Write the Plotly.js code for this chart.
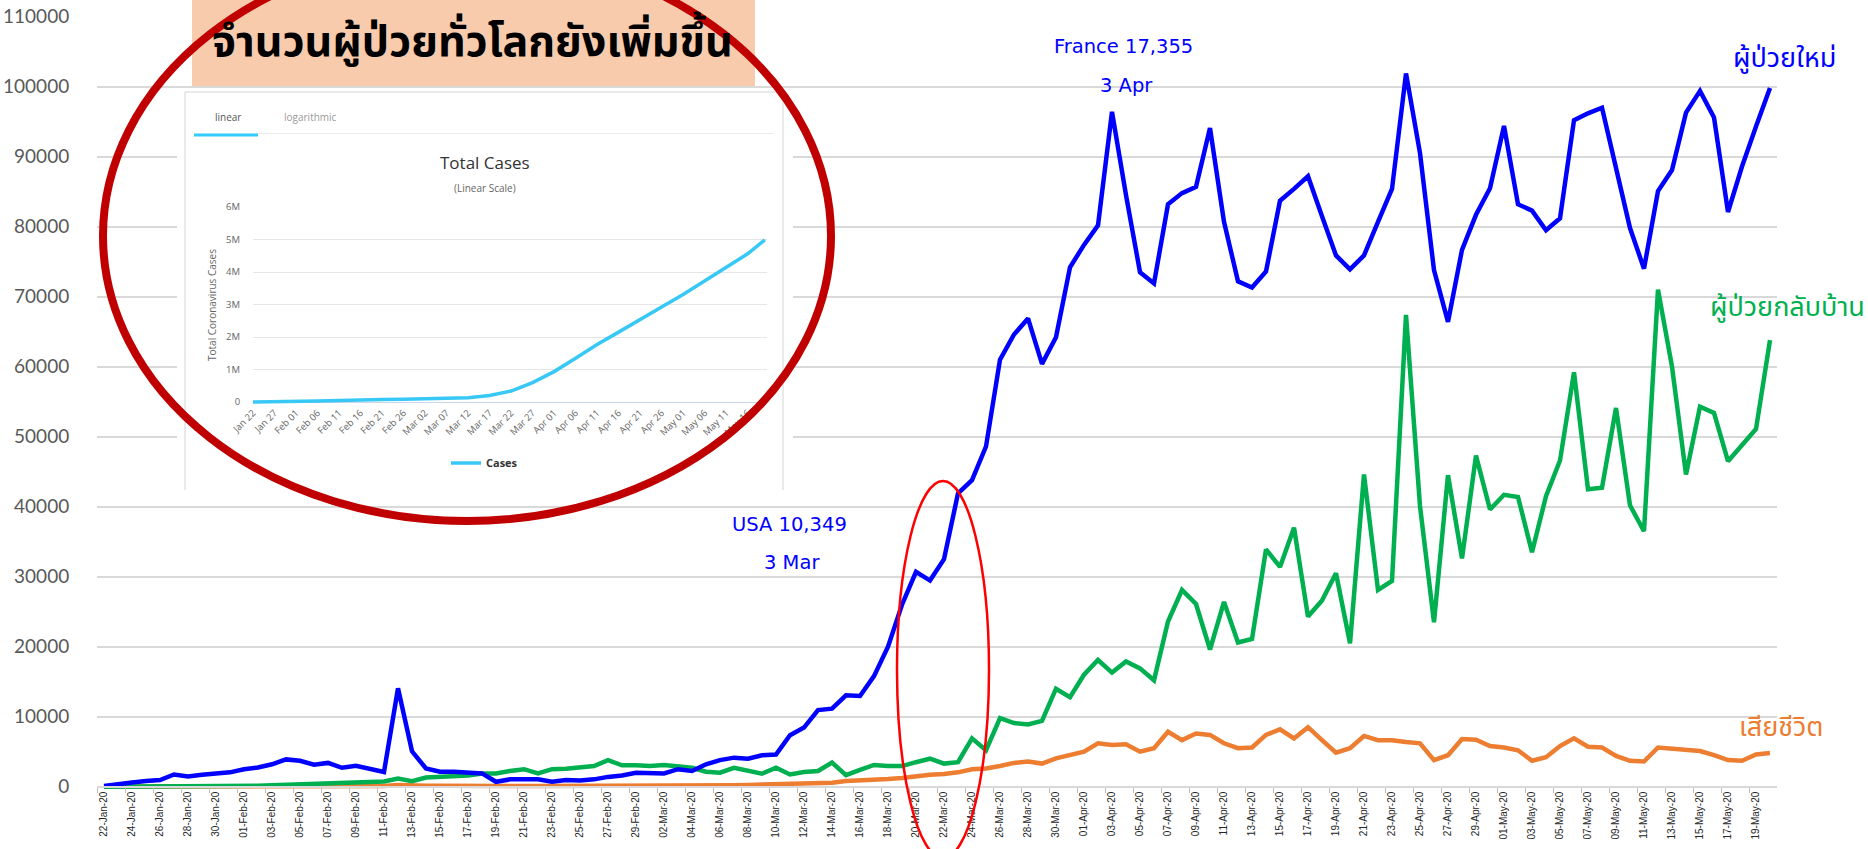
<!DOCTYPE html>
<html><head><meta charset="utf-8">
<script src="https://cdn.plot.ly/plotly-3.0.1.min.js"></script>
<style>html,body{margin:0;padding:0;background:#fff;overflow:hidden}#chart{width:1868px;height:849px}</style>
</head><body><div id="chart"></div>
<script>
const dates = [
'22-Jan-20','23-Jan-20','24-Jan-20','25-Jan-20','26-Jan-20','27-Jan-20','28-Jan-20','29-Jan-20','30-Jan-20','31-Jan-20',
'01-Feb-20','02-Feb-20','03-Feb-20','04-Feb-20','05-Feb-20','06-Feb-20','07-Feb-20','08-Feb-20','09-Feb-20','10-Feb-20',
'11-Feb-20','12-Feb-20','13-Feb-20','14-Feb-20','15-Feb-20','16-Feb-20','17-Feb-20','18-Feb-20','19-Feb-20','20-Feb-20',
'21-Feb-20','22-Feb-20','23-Feb-20','24-Feb-20','25-Feb-20','26-Feb-20','27-Feb-20','28-Feb-20','29-Feb-20',
'01-Mar-20','02-Mar-20','03-Mar-20','04-Mar-20','05-Mar-20','06-Mar-20','07-Mar-20','08-Mar-20','09-Mar-20','10-Mar-20',
'11-Mar-20','12-Mar-20','13-Mar-20','14-Mar-20','15-Mar-20','16-Mar-20','17-Mar-20','18-Mar-20','19-Mar-20','20-Mar-20',
'21-Mar-20','22-Mar-20','23-Mar-20','24-Mar-20','25-Mar-20','26-Mar-20','27-Mar-20','28-Mar-20','29-Mar-20','30-Mar-20','31-Mar-20',
'01-Apr-20','02-Apr-20','03-Apr-20','04-Apr-20','05-Apr-20','06-Apr-20','07-Apr-20','08-Apr-20','09-Apr-20','10-Apr-20',
'11-Apr-20','12-Apr-20','13-Apr-20','14-Apr-20','15-Apr-20','16-Apr-20','17-Apr-20','18-Apr-20','19-Apr-20','20-Apr-20',
'21-Apr-20','22-Apr-20','23-Apr-20','24-Apr-20','25-Apr-20','26-Apr-20','27-Apr-20','28-Apr-20','29-Apr-20','30-Apr-20',
'01-May-20','02-May-20','03-May-20','04-May-20','05-May-20','06-May-20','07-May-20','08-May-20','09-May-20','10-May-20',
'11-May-20','12-May-20','13-May-20','14-May-20','15-May-20','16-May-20','17-May-20','18-May-20','19-May-20','20-May-20'
];
const newCases = [
100,400,600,800,950,1750,1450,1700,1900,2050,
2500,2750,3200,3900,3700,3150,3400,2700,3000,2550,
2100,14050,5050,2600,2150,2150,2050,1900,700,1050,
1050,1050,700,950,900,1050,1400,1600,2000,
2000,1900,2500,2250,3200,3800,4150,4000,4500,4600,
7350,8450,10950,11150,13050,12950,15800,20000,26000,30700,
29450,32500,41900,43800,48600,61000,64600,66900,60400,64200,74200,
77400,80200,96400,84500,73500,71900,83200,84800,85700,94100,
80700,72200,71300,73600,83700,85400,87200,81500,75900,73900,
75900,80700,85400,101900,90500,73800,66400,76700,81700,85500,
94400,83200,82300,79500,81200,95200,96200,97000,88600,79800,
74000,85100,88100,96300,99400,95600,82100,88600,94300,99800
];
const recovered = [
0,0,10,20,30,40,50,60,70,90,
100,150,200,250,300,400,500,600,650,700,
750,1150,800,1300,1350,1400,1600,1900,1900,2250,
2500,1900,2500,2550,2700,2950,3800,3050,3050,
2950,3100,2950,2700,2150,2000,2700,2250,1850,2700,
1750,2100,2250,3450,1650,2400,3100,2950,2950,3500,
4000,3300,3500,6900,5200,9800,9100,8900,9400,14000,12800,
16000,18100,16300,17900,16900,15200,23600,28100,26100,19600,
26400,20600,21100,33900,31400,37000,24300,26600,30500,20500,
44600,28100,29400,67400,40100,23500,44500,32600,47300,39600,
41700,41400,33500,41500,46600,59200,42500,42700,54100,40200,
36500,71000,60000,44600,54300,53400,46500,48900,51100,63800
];
const deaths = [
20,20,10,20,30,30,30,40,40,40,
50,60,60,70,70,80,90,90,100,110,
100,250,140,140,140,110,100,130,120,120,
110,100,100,150,80,60,50,60,50,
70,80,90,100,110,150,200,250,300,350,
400,450,500,550,800,850,950,1100,1250,1500,
1700,1800,2050,2500,2600,2950,3400,3600,3300,4050,4500,
5000,6200,5950,6050,5000,5500,7850,6650,7600,7400,
6200,5500,5600,7400,8200,6900,8500,6650,4850,5500,
7250,6650,6650,6400,6200,3800,4500,6800,6700,5800,
5600,5200,3700,4200,5800,6900,5700,5600,4400,3700,
3600,5600,5400,5300,5100,4500,3800,3700,4600,4800
];
const seriesNames = ['ผู้ป่วยใหม่', 'ผู้ป่วยกลับบ้าน', 'เสียชีวิต'];
const seriesColors = ['#0000ff', '#00b050', '#ed7d31'];
const titleText = 'จำนวนผู้ป่วยทั่วโลกยังเพิ่มขึ้น';
const peakNotes = [['France 17,355', '3 Apr'], ['USA 10,349', '3 Mar']];

const insetDates = ['2020-01-22','2020-01-27','2020-02-01','2020-02-06','2020-02-11','2020-02-16','2020-02-21','2020-02-26',
'2020-03-02','2020-03-07','2020-03-12','2020-03-17','2020-03-22','2020-03-27','2020-04-01','2020-04-06','2020-04-11',
'2020-04-16','2020-04-21','2020-04-26','2020-05-01','2020-05-06','2020-05-11','2020-05-16','2020-05-20'];
const insetTotal = [580,2900,12000,28000,45000,69000,77000,81000,90000,106000,128000,198000,337000,595000,935000,
1345000,1770000,2150000,2520000,2920000,3310000,3720000,4150000,4560000,4990000];
const insetTabs = ['linear', 'logarithmic'];
const insetTitle = 'Total Cases';
const insetSubtitle = '(Linear Scale)';
const insetYTitle = 'Total Coronavirus Cases';
const insetSeries = 'Cases';

const W = 1868, H = 849;
const px = x => x / W, py = y => 1 - y / H;
const thai = 'Noto Sans Thai, Noto Sans Thai UI, Loma, Garuda, Tahoma, Noto Sans, sans-serif';
const sans = 'Open Sans, Liberation Sans, sans-serif';

const traces = [
  {type:'scatter', mode:'lines', x:dates, y:deaths, name:seriesNames[2], line:{color:seriesColors[2], width:4.5}, showlegend:false, hoverinfo:'skip'},
  {type:'scatter', mode:'lines', x:dates, y:recovered, name:seriesNames[1], line:{color:seriesColors[1], width:4.5}, showlegend:false, hoverinfo:'skip'},
  {type:'scatter', mode:'lines', x:dates, y:newCases, name:seriesNames[0], line:{color:seriesColors[0], width:4.5}, showlegend:false, hoverinfo:'skip'},
  {type:'scatter', mode:'lines', x:[], y:[], xaxis:'x2', yaxis:'y2', showlegend:false, hoverinfo:'skip'},
  {type:'scatter', mode:'lines', x:insetDates, y:insetTotal, xaxis:'x3', yaxis:'y3', name:insetSeries, line:{color:'#38c8f5', width:3.5}, showlegend:true, hoverinfo:'skip'}
];

function ann(text, x, y, font, extra) {
  return Object.assign({text:text, x:px(x), y:py(y), xref:'paper', yref:'paper', showarrow:false, xanchor:'center', yanchor:'middle', font:font}, extra || {});
}
function hline(x0, x1, y, color, w) {
  return {type:'line', xref:'paper', yref:'paper', x0:px(x0), x1:px(x1), y0:py(y), y1:py(y), line:{color:color, width:w}, layer:'above'};
}
function vline(x, y0, y1, color, w) {
  return {type:'line', xref:'paper', yref:'paper', x0:px(x), x1:px(x), y0:py(y0), y1:py(y1), line:{color:color, width:w}, layer:'above'};
}

const blueFont = {family:'DejaVu Sans, sans-serif', size:19.5, color:'#0000ff'};

const layout = {
  width:W, height:H, autosize:false,
  margin:{l:0, r:0, t:0, b:0, pad:0},
  paper_bgcolor:'#ffffff', plot_bgcolor:'#ffffff',
  showlegend:true,
  legend:{x:px(446), y:py(463), xanchor:'left', yanchor:'middle', bgcolor:'rgba(0,0,0,0)', itemwidth:30,
          font:{family:sans, size:11, color:'#333', weight:'bold'}},
  xaxis:{type:'category', domain:[px(97), px(1777)], range:[-0.5, 119.5], anchor:'free', position:py(786.7),
         showline:true, linecolor:'#d9d9d9', linewidth:2, showgrid:false, zeroline:false,
         ticks:'outside', ticklen:5, tickwidth:1, tickcolor:'#bfbfbf', tickson:'boundaries',
         tickmode:'linear', tick0:0, dtick:2, tickangle:-90,
         tickfont:{family:'Liberation Sans, Arial, sans-serif', size:10, color:'#262626'}, fixedrange:true},
  yaxis:{domain:[py(792.3), py(16.7)], range:[-800, 110000], anchor:'x',
         tickmode:'linear', tick0:0, dtick:10000, tickformat:'d',
         showgrid:true, gridcolor:'#d9d9d9', gridwidth:2, zeroline:false, showline:false,
         ticks:'outside', ticklen:23, tickcolor:'rgba(0,0,0,0)',
         tickfont:{family:'Lato, sans-serif', size:19, color:'#595959'}, fixedrange:true},
  xaxis2:{domain:[px(177), px(793)], range:[0,1], anchor:'y2', visible:false, fixedrange:true},
  yaxis2:{domain:[py(492), py(89)], range:[0,1], anchor:'x2', visible:false, fixedrange:true},
  xaxis3:{type:'date', domain:[px(253), px(767)], range:['2020-01-22', '2020-05-20 12:00'], anchor:'y3',
          tick0:'2020-01-22', dtick:5*86400000, tickformat:'%b %d', tickangle:-45,
          ticks:'', showgrid:false, zeroline:false, showline:false,
          tickfont:{family:sans, size:9.5, color:'#666'}, fixedrange:true},
  yaxis3:{domain:[py(404.6), py(207)], range:[-80000, 6000000], anchor:'x3',
          tickmode:'linear', tick0:0, dtick:1000000, tickformat:'~s',
          showgrid:true, gridcolor:'#e6e6e6', gridwidth:1, zeroline:true, zerolinecolor:'#ccd6eb', zerolinewidth:1,
          ticks:'outside', ticklen:10, tickcolor:'rgba(0,0,0,0)',
          tickfont:{family:sans, size:9.5, color:'#666'}, fixedrange:true},
  shapes:[
    {type:'rect', xref:'x2', yref:'y2', x0:0, x1:1, y0:0, y1:1, fillcolor:'#ffffff', line:{width:0}, layer:'below'},
    {type:'rect', xref:'paper', yref:'paper', x0:px(192), x1:px(755), y0:py(86), y1:py(0), fillcolor:'#f8cbad', line:{width:0}, layer:'above'},
    vline(185, 92, 490, '#d4d4d4', 1),
    hline(185, 783, 92, '#d4d4d4', 1),
    vline(783, 92, 490, '#d4d4d4', 1),
    hline(258, 773, 133.5, '#e9e9e9', 1),
    hline(194, 258, 135, '#33ccff', 3),
    {type:'circle', xref:'paper', yref:'paper', x0:px(103), x1:px(831), y0:py(521), y1:py(-49), line:{color:'#c00000', width:8}, layer:'above'},
    {type:'circle', xref:'paper', yref:'paper', x0:px(897), x1:px(989), y0:py(858), y1:py(481), line:{color:'#ff0000', width:2.5}, layer:'above'}
  ],
  annotations:[
    ann(titleText, 472, 42, {family:thai, size:43, color:'#000', weight:'bold'}),
    ann(peakNotes[0][0], 1123, 47, blueFont),
    ann(peakNotes[0][1], 1126, 85, blueFont),
    ann(peakNotes[1][0], 789, 524, blueFont),
    ann(peakNotes[1][1], 792, 562, blueFont),
    ann(seriesNames[0], 1784, 58, {family:thai, size:27, color:seriesColors[0]}),
    ann(seriesNames[1], 1787, 307, {family:thai, size:27, color:seriesColors[1]}),
    ann(seriesNames[2], 1781, 727, {family:thai, size:27, color:seriesColors[2]}),
    ann(insetTabs[0], 228, 117, {family:sans, size:10, color:'#555'}),
    ann(insetTabs[1], 310, 117, {family:sans, size:10, color:'#999'}),
    ann(insetTitle, 484.5, 162, {family:sans, size:17, color:'#333'}),
    ann(insetSubtitle, 484.5, 188, {family:sans, size:10, color:'#666'}),
    ann(insetYTitle, 212, 305, {family:sans, size:10, color:'#666'}, {textangle:-90})
  ]
};

Plotly.newPlot('chart', traces, layout, {staticPlot:true, displayModeBar:false});
</script>
</body></html>
